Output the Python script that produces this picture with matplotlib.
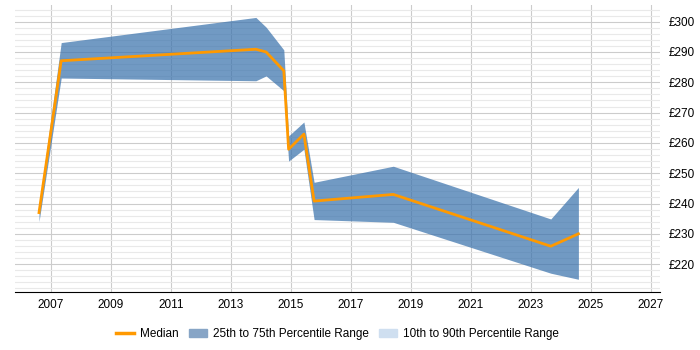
import numpy as np
import matplotlib
matplotlib.use("Agg")
import matplotlib.pyplot as plt
import matplotlib.patches as mpatches
from matplotlib.lines import Line2D
from matplotlib.ticker import MultipleLocator, NullLocator, FuncFormatter

plt.rcParams["font.family"] = ["Liberation Sans", "DejaVu Sans"]

# values
years  = [2006.6, 2007.34, 2013.83, 2014.17, 2014.76, 2014.92, 2015.43, 2015.77, 2018.41, 2023.66, 2024.58]
median = [237.0, 287.1, 290.9, 290.0, 283.8, 257.9, 262.9, 240.8, 243.0, 225.9, 230.0]
p75    = [239.0, 293.1, 301.4, 298.2, 290.7, 262.3, 266.9, 247.0, 252.3, 234.9, 245.3]
p25    = [234.0, 281.4, 280.5, 282.1, 277.2, 254.0, 257.9, 234.7, 233.8, 217.0, 215.0]
xticks = list(range(2007, 2028, 2))

BAND_COLOR   = "#3b73ad"
BAND_LEGEND  = "#87a5c6"
OUTER_LEGEND = "#cfdff0"
MEDIAN_COLOR = "#ff9900"

fig = plt.figure(figsize=(7, 3.5), dpi=100)
ax = fig.add_axes([15 / 700, 1 - 292 / 350, 645 / 700, 287 / 350])

ax.fill_between(years, p25, p75, color=BAND_COLOR, alpha=0.72, linewidth=0, zorder=2)
ax.plot(years, median, color=MEDIAN_COLOR, linewidth=2, zorder=3)

ax.set_xlim(2005.8, 2027.3)
ax.set_ylim(210.8, 305.5)

ax.set_xticks(xticks)
ax.xaxis.set_minor_locator(NullLocator())
ax.yaxis.set_major_locator(MultipleLocator(10))
ax.yaxis.set_minor_locator(MultipleLocator(2))
ax.yaxis.set_major_formatter(FuncFormatter(lambda v, p: f"£{v:.0f}"))
ax.yaxis.tick_right()

ax.grid(True, which="major", axis="x", color="#cccccc", linewidth=0.8, zorder=0)
ax.grid(True, which="major", axis="y", color="#cccccc", linewidth=0.8, zorder=0)
ax.grid(True, which="minor", axis="y", color="#e9e9e9", linewidth=0.8, zorder=0)
ax.set_axisbelow(True)

for side in ["top", "right", "left"]:
    ax.spines[side].set_visible(False)
ax.spines["bottom"].set_color("black")

ax.tick_params(axis="x", length=0, labelsize=8.5, pad=5)
ax.tick_params(axis="y", which="both", length=0, labelsize=8.5, pad=6)

handles = [
    Line2D([0], [0], color=MEDIAN_COLOR, linewidth=2.5, label="Median"),
    mpatches.Patch(color=BAND_LEGEND, label="25th to 75th Percentile Range"),
    mpatches.Patch(color=OUTER_LEGEND, label="10th to 90th Percentile Range"),
]
fig.legend(handles=handles, loc="center", bbox_to_anchor=(0.482, 1 - 334 / 350),
           ncol=3, frameon=False, fontsize=8.5, handlelength=1.5,
           handletextpad=0.5, columnspacing=0.9)

fig.savefig("out.png", dpi=100, facecolor="white")
